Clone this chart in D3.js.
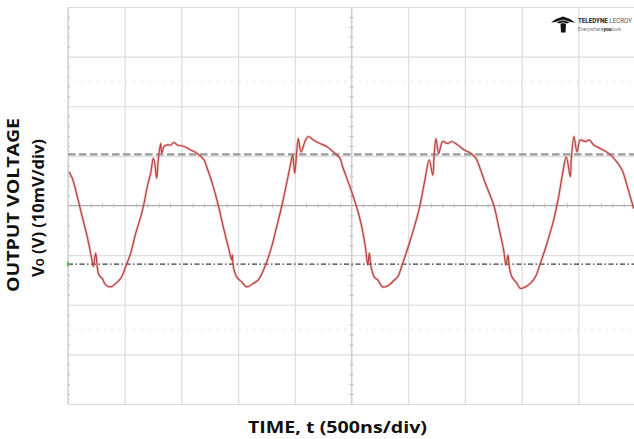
<!DOCTYPE html>
<html>
<head>
<meta charset="utf-8">
<script src="https://cdn.jsdelivr.net/npm/d3@7"></script>
<style>
  html, body { margin: 0; padding: 0; background: #fff; }
  svg { display: block; }
</style>
</head>
<body>
<svg id="chart" width="634" height="439"></svg>
<script>
// ---- Data (time in ns, voltage in mV, 500 ns/div, 10 mV/div) ----
const timeNs = [9,38,82,126,170,214,223,244,258,273,302,332,377,421,465,509,553,597,641,670,699,729,752,765,782,796,817,826,847,876,906,935,964,1023,1082,1140,1199,1223,1281,1325,1369,1413,1444,1449,1458,1488,1532,1576,1634,1678,1737,1796,1840,1884,1928,1964,1981,1999,2017,2031,2055,2090,2119,2163,2222,2281,2339,2398,2422,2481,2540,2584,2622,2643,2657,2672,2701,2731,2775,2833,2877,2907,2951,3010,3054,3098,3142,3186,3216,3230,3245,3269,3304,3348,3386,3436,3495,3554,3598,3622,3680,3754,3798,3842,3862,3880,3891,3915,3959,3988,4033,4077,4121,4165,4224,4283,4327,4362,4394,4429,4438,4462,4488,4517,4562,4597,4636,4694,4768,4826,4885,4929,4958,4988];
const voltMv = [6.8,5.5,1.8,-2.3,-6.3,-11.3,-12.3,-9.6,-12.3,-14.0,-14.7,-16.0,-16.4,-15.7,-14.7,-12.3,-9.6,-5.6,-2.3,0.4,3.8,6.5,9.5,8.5,5.5,9.2,12.5,10.5,11.9,12.2,12.2,12.7,12.2,11.9,11.2,10.5,9.2,7.8,3.8,0.1,-4.3,-8.3,-11.0,-10.0,-12.3,-14.4,-15.4,-16.4,-15.7,-15.0,-12.3,-8.3,-4.3,-0.2,4.5,8.5,10.2,6.5,10.8,13.5,10.8,12.9,13.9,13.2,12.5,11.9,10.8,9.5,7.8,4.1,0.1,-3.6,-8.3,-12.0,-9.6,-12.3,-14.4,-15.0,-16.4,-16.0,-15.0,-14.4,-11.7,-7.6,-4.3,-0.6,4.5,9.2,6.1,10.5,13.5,10.5,12.9,12.5,12.9,12.2,11.2,10.5,9.5,8.2,4.5,0.1,-4.3,-9.0,-12.0,-10.0,-12.3,-14.4,-15.7,-16.7,-16.4,-15.7,-14.4,-11.7,-7.6,-2.9,1.8,6.5,9.8,5.8,9.2,13.9,10.8,13.2,12.9,13.2,12.2,11.5,10.5,9.2,7.2,4.1,1.8,-0.6];
const xDomain = [0, 5000];
const yDomain = [-40, 40];
const majorX = [0,500,1000,1500,2000,2500,3000,3500,4000,4500,5000];
const majorY = [-40,-30,-20,-10,0,10,20,30,40];
const cursorDashed = 10.3;     // gray dashed level
const cursorDashDot = -11.8;   // dark dash-dot level (ground marker)
const dottedLevels = [25, -25];
const xLabel = "TIME, t (500ns/div)";
const yLabel1 = "OUTPUT VOLTAGE";

// ---- Scales ----
const svg = d3.select("#chart");
const x = d3.scaleLinear().domain(xDomain).range([68, 635]);
const y = d3.scaleLinear().domain(yDomain).range([404, 7]);

// ---- Grid via axes ----
const grid = svg.append("g");
grid.append("g")
  .attr("transform", `translate(0,${y(-40)})`)
  .call(d3.axisBottom(x).tickValues(majorX).tickSize(-(y(-40) - y(40))).tickFormat(""))
  .call(g => g.select(".domain").remove())
  .call(g => g.selectAll("line").attr("stroke", "#dcdcdc").attr("stroke-width", 1.2));
grid.append("g")
  .attr("transform", `translate(${x(0)},0)`)
  .call(d3.axisLeft(y).tickValues(majorY).tickSize(-(x(5000) - x(0))).tickFormat(""))
  .call(g => g.select(".domain").remove())
  .call(g => g.selectAll("line").attr("stroke", "#dcdcdc").attr("stroke-width", 1.2));

// center lines (darker)
grid.append("line").attr("x1", x(0)).attr("x2", x(5000)).attr("y1", y(0)).attr("y2", y(0))
  .attr("stroke", "#a8a8a8").attr("stroke-width", 1.2);
grid.append("line").attr("x1", x(2500)).attr("x2", x(2500)).attr("y1", y(40)).attr("y2", y(-40))
  .attr("stroke", "#cfcfcf").attr("stroke-width", 1.2);
// left edge
grid.append("line").attr("x1", x(0)).attr("x2", x(0)).attr("y1", y(40)).attr("y2", y(-40))
  .attr("stroke", "#cfcfcf").attr("stroke-width", 1.2);

// minor ticks
const minorT = d3.range(0, 5001, 100).filter(v => v % 500 !== 0);
const minorV = d3.range(-40, 40.1, 2).filter(v => v % 10 !== 0);
grid.append("g").attr("transform", `translate(0,${y(0)})`)
  .call(d3.axisBottom(x).tickValues(minorT).tickSizeInner(2).tickSizeOuter(0).tickFormat(""))
  .call(g => g.select(".domain").remove())
  .call(g => g.selectAll("line").attr("stroke", "#bbb").attr("y1", -2));
grid.append("g").attr("transform", `translate(${x(2500)},0)`)
  .call(d3.axisLeft(y).tickValues(minorV).tickSizeInner(2).tickSizeOuter(0).tickFormat(""))
  .call(g => g.select(".domain").remove())
  .call(g => g.selectAll("line").attr("stroke", "#bbb").attr("x1", 2));
grid.append("g").attr("transform", `translate(${x(0)},0)`)
  .call(d3.axisRight(y).tickValues(minorV).tickSizeInner(2).tickSizeOuter(0).tickFormat(""))
  .call(g => g.select(".domain").remove())
  .call(g => g.selectAll("line").attr("stroke", "#bbb"));
grid.selectAll("text").remove();

// faint dotted levels
svg.append("g").selectAll("line").data(dottedLevels).join("line")
  .attr("x1", x(0) + 6).attr("x2", x(5000)).attr("y1", d => y(d)).attr("y2", d => y(d))
  .attr("stroke", "#e6e6e6").attr("stroke-width", 1.5).attr("stroke-dasharray", "1.5,6");

// cursor lines
svg.append("line").attr("x1", x(0)).attr("x2", x(5000)).attr("y1", y(cursorDashed)).attr("y2", y(cursorDashed))
  .attr("stroke", "#9a9a9a").attr("stroke-width", 2.2).attr("stroke-dasharray", "7.5,3.5");
svg.append("line").attr("x1", x(0)).attr("x2", x(5000)).attr("y1", y(cursorDashDot)).attr("y2", y(cursorDashDot))
  .attr("stroke", "#3a3a3a").attr("stroke-width", 1.2).attr("stroke-dasharray", "5,2.5,1.5,2.5");
// green ground marker
svg.append("path")
  .attr("d", `M${x(0) - 1},${y(cursorDashDot) - 3} L${x(0) + 3},${y(cursorDashDot)} L${x(0) - 1},${y(cursorDashDot) + 3} Z`)
  .attr("fill", "#5cc45c");

// ---- Waveform ----
const pts = timeNs.map((t, i) => [t, voltMv[i]]);
const line = d3.line().x(d => x(d[0])).y(d => y(d[1])).curve(d3.curveCatmullRom.alpha(0.5));
svg.append("path").datum(pts).attr("d", line)
  .attr("fill", "none").attr("stroke", "#d98f8c").attr("stroke-width", 2.8).attr("stroke-opacity", 0.45);
svg.append("path").datum(pts).attr("d", line)
  .attr("fill", "none").attr("stroke", "#b8403e").attr("stroke-width", 1.2);

// ---- Logo ----
const logo = svg.append("g");
logo.append("path")
  .attr("d", "M551,22.5 L556,19 L563,16.5 L570,19 L575,22.5 L570,22 L566,24 L565.5,32.5 L561,32.5 L560.5,24 L556,22 Z")
  .attr("fill", "#111");
logo.append("path")
  .attr("d", "M556,22 L563,20 L570,22 M558,24.5 L563,22.5 L568,24.5")
  .attr("fill", "none").attr("stroke", "#fff").attr("stroke-width", 0.7);
function fitLine(parts, x0, y0, size, target) {
  const t = logo.append("text").attr("x", 0).attr("y", 0)
    .attr("font-family", "Roboto, sans-serif").attr("font-size", size);
  parts.forEach(p => t.append("tspan").attr("font-weight", p[1]).attr("fill", p[2]).text(p[0]));
  const w = t.node().getComputedTextLength();
  const k = Math.min(1, target / w);
  t.attr("transform", `translate(${x0},${y0}) scale(${k},1)`);
}
fitLine([["TELEDYNE ", "bold", "#222"], ["LECROY", "normal", "#555"]], 578, 23, 7, 54);
fitLine([["Everywhere", "normal", "#777"], ["you", "bold", "#222"], ["look", "normal", "#777"]], 578, 30.5, 5.2, 43);

// ---- Axis labels ----
svg.append("text").attr("x", 337.5).attr("y", 433).attr("text-anchor", "middle")
  .attr("font-family", "'Open Sans', sans-serif").attr("font-weight", "bold").attr("font-size", 16.5)
  .attr("textLength", 179).attr("lengthAdjust", "spacingAndGlyphs")
  .attr("fill", "#111").text(xLabel);

const yl = svg.append("g").attr("transform", "translate(0,205) rotate(-90)");
yl.append("text").attr("x", 0).attr("y", 19).attr("text-anchor", "middle")
  .attr("font-family", "'Open Sans', sans-serif").attr("font-weight", "bold").attr("font-size", 16.5)
  .attr("textLength", 174).attr("lengthAdjust", "spacingAndGlyphs")
  .attr("fill", "#111").text(yLabel1);
const t2 = yl.append("text").attr("x", -3).attr("y", 44).attr("text-anchor", "middle")
  .attr("font-family", "'Open Sans', sans-serif").attr("font-weight", "bold").attr("font-size", 16.5)
  .attr("fill", "#111");
t2.append("tspan").text("V");
t2.append("tspan").attr("font-size", 10).text("O");
t2.append("tspan").text(" (V) (10mV/div)");
</script>
</body>
</html>
